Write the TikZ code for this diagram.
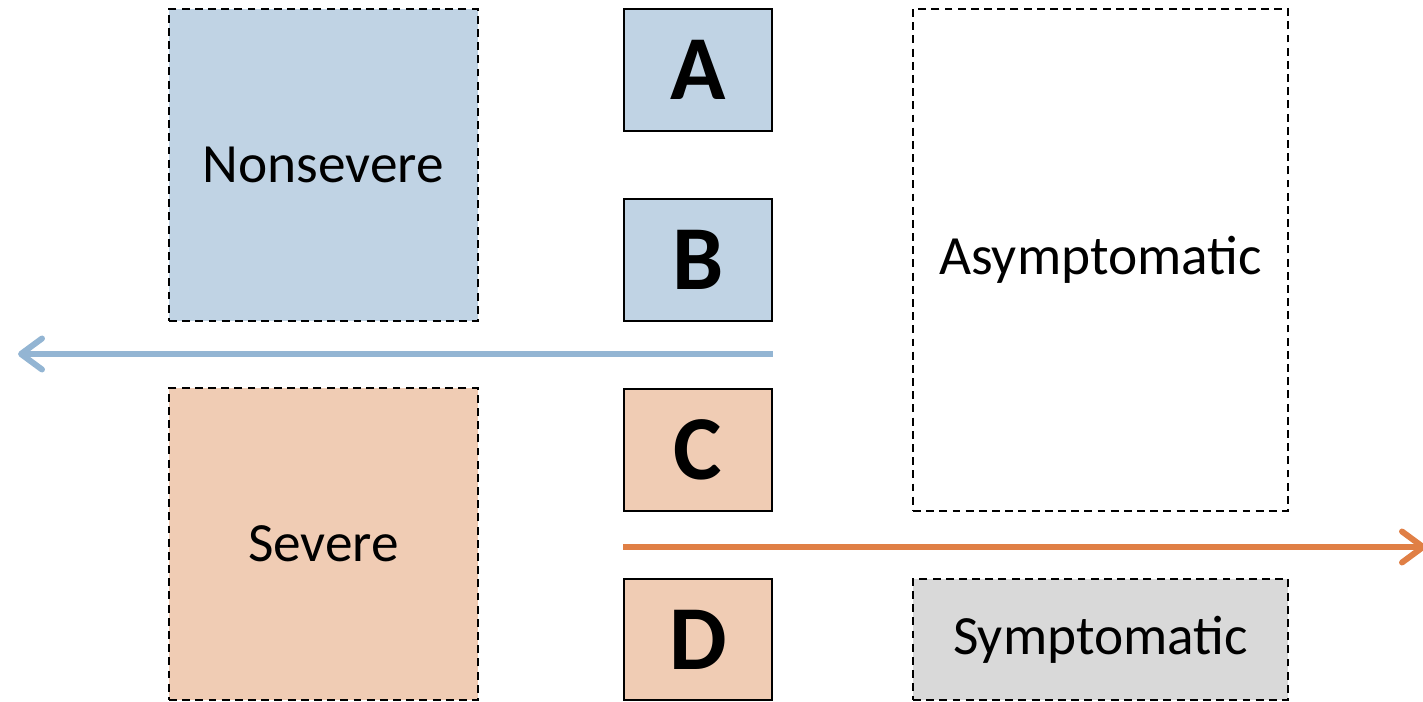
\documentclass[tikz,border=0pt]{standalone}
\usepackage{fontspec}
\setmainfont{Carlito}
\usetikzlibrary{arrows.meta}

\definecolor{lightblue}{HTML}{C0D3E4}
\definecolor{lightorange}{HTML}{F0CCB4}
\definecolor{lightgray}{HTML}{D9D9D9}
\definecolor{arrowblue}{HTML}{93B5D3}
\definecolor{arroworange}{HTML}{E07F45}

\tikzset{
  groupbox/.style={draw, line width=0.85pt, dash pattern=on 4.5pt off 3pt, inner sep=0pt,
    font=\fontsize{31.5}{31.5}\selectfont},
  letterbox/.style={draw, line width=1.1pt, inner sep=0pt, minimum width=2.96cm,
    minimum height=2.44cm, font=\fontsize{52}{52}\selectfont\bfseries},
  axisarrow/.style={line width=3.4pt, -{Straight Barb[length=0.42cm,width=0.62cm,round]}}
}

\begin{document}
\begin{tikzpicture}
  \useasboundingbox (0,0) rectangle (28.46,-14.04);

  %severity groups
  \node[groupbox, fill=lightblue, minimum width=6.18cm, minimum height=6.24cm] (nonsevere) at (6.47,-3.30) {Nonsevere};
  \node[groupbox, fill=lightorange, minimum width=6.18cm, minimum height=6.24cm] (severe) at (6.47,-10.88) {Severe};

  %letters
  \node[letterbox, fill=lightblue] (a) at (13.96,-1.40) {A};
  \node[letterbox, fill=lightblue] (b) at (13.96,-5.20) {B};
  \node[letterbox, fill=lightorange] (c) at (13.96,-9.00) {C};
  \node[letterbox, fill=lightorange, minimum height=2.42cm] (d) at (13.96,-12.79) {D};

  %symptom groups
  \node[groupbox, fill=white, minimum width=7.50cm, minimum height=10.04cm] (asym) at (22.01,-5.20) {Asymptomatic};
  \node[groupbox, fill=lightgray, minimum width=7.50cm, minimum height=2.42cm] (sym) at (22.01,-12.79) {Symptomatic};

  %arrows
  \coordinate (bluestart) at (b.east |- 0,-7.08);
  \coordinate (blueend) at (0.36,-7.08);
  \coordinate (orangestart) at (c.west |- 0,-10.94);
  \coordinate (orangeend) at (28.52,-10.94);
  \draw[axisarrow, arrowblue] (bluestart) -- (blueend);
  \draw[axisarrow, arroworange] (orangestart) -- (orangeend);

\end{tikzpicture}
\end{document}
